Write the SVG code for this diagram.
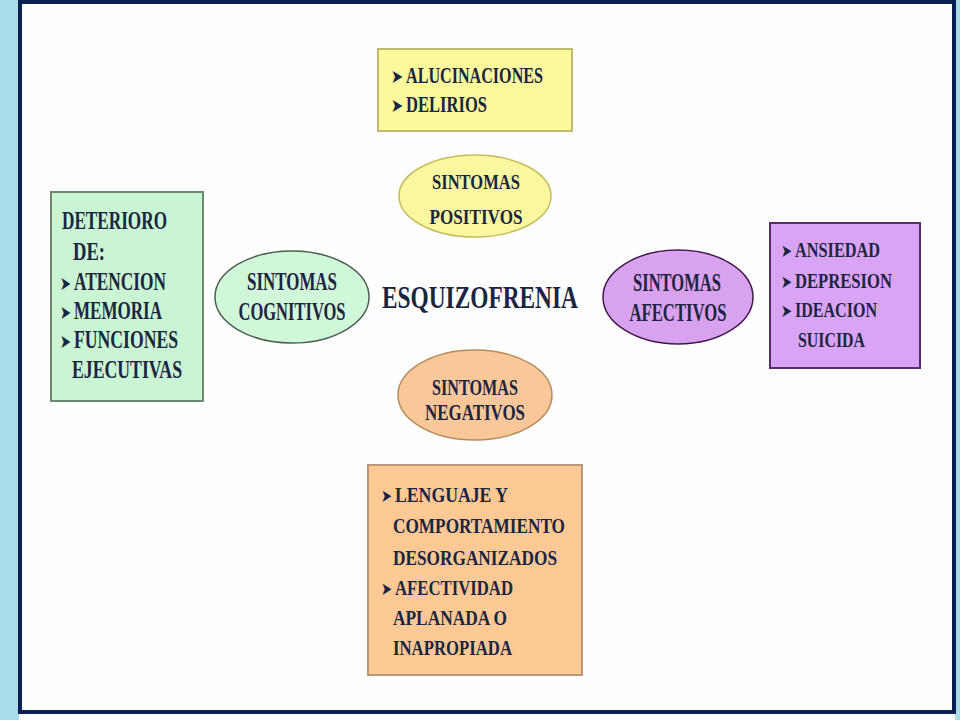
<svg xmlns="http://www.w3.org/2000/svg" width="960" height="720" viewBox="0 0 960 720">
<style>
.t{font-family:"Liberation Serif","Times New Roman",serif;font-weight:bold;fill:#1b2540}
.b{font-family:"DejaVu Sans",sans-serif;fill:#1b2540}
.c{text-anchor:middle}
</style>
<rect x="0" y="0" width="960" height="720" fill="#fefefe"/>
<g id="frame">
<rect x="0" y="0" width="19" height="720" fill="#a9dce8"/>
<rect x="955" y="0" width="5" height="720" fill="#a9dce8"/>
<rect x="20" y="2" width="934" height="710" fill="#fefefe" stroke="#0c1f52" stroke-width="4"/>
</g>
<g id="connectors"/>
<g id="center">
<text class="t" transform="translate(382,308) scale(0.73,1)" x="0" y="0" font-size="32" fill="#1a2550">ESQUIZOFRENIA</text>
</g>
<g id="positivos-box">
<rect x="378" y="49" width="194" height="82" fill="#fcf89c" stroke="#c2ba72" stroke-width="2"/>
<text class="b" x="391" y="83" font-size="19" textLength="12" lengthAdjust="spacingAndGlyphs">➤</text>
<text class="t" x="406" y="83" font-size="23" textLength="137" lengthAdjust="spacingAndGlyphs">ALUCINACIONES</text>
<text class="b" x="391" y="112" font-size="19" textLength="12" lengthAdjust="spacingAndGlyphs">➤</text>
<text class="t" x="406" y="112" font-size="23" textLength="81" lengthAdjust="spacingAndGlyphs">DELIRIOS</text>
</g>
<g id="positivos">
<ellipse cx="475" cy="196" rx="76" ry="41" fill="#fbf7a0" stroke="#c4bc5e" stroke-width="1.5"/>
<text class="t c" x="476" y="189" font-size="22" textLength="88" lengthAdjust="spacingAndGlyphs">SINTOMAS</text>
<text class="t c" x="476" y="224" font-size="22" textLength="93" lengthAdjust="spacingAndGlyphs">POSITIVOS</text>
</g>
<g id="cognitivos-box">
<rect x="51" y="192" width="152" height="209" fill="#c9f5d2" stroke="#6c8a72" stroke-width="2"/>
<text class="t" x="62" y="229" font-size="25" textLength="105" lengthAdjust="spacingAndGlyphs">DETERIORO</text>
<text class="t" x="73" y="260" font-size="25" textLength="32" lengthAdjust="spacingAndGlyphs">DE:</text>
<text class="b" x="60" y="290" font-size="19" textLength="11" lengthAdjust="spacingAndGlyphs">➤</text>
<text class="t" x="74" y="290" font-size="25" textLength="92" lengthAdjust="spacingAndGlyphs">ATENCION</text>
<text class="b" x="60" y="319" font-size="19" textLength="11" lengthAdjust="spacingAndGlyphs">➤</text>
<text class="t" x="74" y="319" font-size="25" textLength="88" lengthAdjust="spacingAndGlyphs">MEMORIA</text>
<text class="b" x="60" y="348" font-size="19" textLength="11" lengthAdjust="spacingAndGlyphs">➤</text>
<text class="t" x="74" y="348" font-size="25" textLength="104" lengthAdjust="spacingAndGlyphs">FUNCIONES</text>
<text class="t" x="72" y="378" font-size="25" textLength="110" lengthAdjust="spacingAndGlyphs">EJECUTIVAS</text>
</g>
<g id="cognitivos">
<ellipse cx="292" cy="297" rx="77" ry="46" fill="#d0f7d8" stroke="#4e5e52" stroke-width="1.5"/>
<text class="t c" x="292" y="290" font-size="25" textLength="90" lengthAdjust="spacingAndGlyphs">SINTOMAS</text>
<text class="t c" x="292" y="320" font-size="25" textLength="107" lengthAdjust="spacingAndGlyphs">COGNITIVOS</text>
</g>
<g id="afectivos">
<ellipse cx="678" cy="297" rx="75" ry="47" fill="#d8a2f0" stroke="#42184a" stroke-width="1.5"/>
<text class="t c" x="677" y="291" font-size="25" textLength="88" lengthAdjust="spacingAndGlyphs" fill="#28246a">SINTOMAS</text>
<text class="t c" x="678" y="321" font-size="25" textLength="97" lengthAdjust="spacingAndGlyphs" fill="#28246a">AFECTIVOS</text>
</g>
<g id="afectivos-box">
<rect x="770" y="223" width="150" height="145" fill="#d9a4f5" stroke="#5a2a6a" stroke-width="2"/>
<text class="b" x="781" y="257" font-size="18" textLength="11" lengthAdjust="spacingAndGlyphs" fill="#28246a">➤</text>
<text class="t" x="795" y="257" font-size="22" textLength="85" lengthAdjust="spacingAndGlyphs" fill="#28246a">ANSIEDAD</text>
<text class="b" x="781" y="288" font-size="18" textLength="11" lengthAdjust="spacingAndGlyphs" fill="#28246a">➤</text>
<text class="t" x="795" y="288" font-size="22" textLength="97" lengthAdjust="spacingAndGlyphs" fill="#28246a">DEPRESION</text>
<text class="b" x="781" y="317" font-size="18" textLength="11" lengthAdjust="spacingAndGlyphs" fill="#28246a">➤</text>
<text class="t" x="795" y="317" font-size="22" textLength="82" lengthAdjust="spacingAndGlyphs" fill="#28246a">IDEACION</text>
<text class="t" x="798" y="347" font-size="22" textLength="67" lengthAdjust="spacingAndGlyphs" fill="#28246a">SUICIDA</text>
</g>
<g id="negativos">
<ellipse cx="475" cy="395" rx="77" ry="45" fill="#fac898" stroke="#b48c5c" stroke-width="1.5"/>
<text class="t c" x="475" y="395" font-size="23" textLength="86" lengthAdjust="spacingAndGlyphs">SINTOMAS</text>
<text class="t c" x="475" y="420" font-size="23" textLength="100" lengthAdjust="spacingAndGlyphs">NEGATIVOS</text>
</g>
<g id="negativos-box">
<rect x="368" y="465" width="214" height="210" fill="#fcc894" stroke="#b89878" stroke-width="2"/>
<text class="b" x="381" y="502" font-size="18" textLength="11" lengthAdjust="spacingAndGlyphs">➤</text>
<text class="t" x="395" y="502" font-size="21" textLength="113" lengthAdjust="spacingAndGlyphs">LENGUAJE Y</text>
<text class="t" x="393" y="533" font-size="21" textLength="172" lengthAdjust="spacingAndGlyphs">COMPORTAMIENTO</text>
<text class="t" x="393" y="565" font-size="21" textLength="164" lengthAdjust="spacingAndGlyphs">DESORGANIZADOS</text>
<text class="b" x="381" y="595" font-size="18" textLength="11" lengthAdjust="spacingAndGlyphs">➤</text>
<text class="t" x="395" y="595" font-size="21" textLength="118" lengthAdjust="spacingAndGlyphs">AFECTIVIDAD</text>
<text class="t" x="393" y="625" font-size="21" textLength="114" lengthAdjust="spacingAndGlyphs">APLANADA O</text>
<text class="t" x="393" y="655" font-size="21" textLength="119" lengthAdjust="spacingAndGlyphs">INAPROPIADA</text>
</g>
</svg>
